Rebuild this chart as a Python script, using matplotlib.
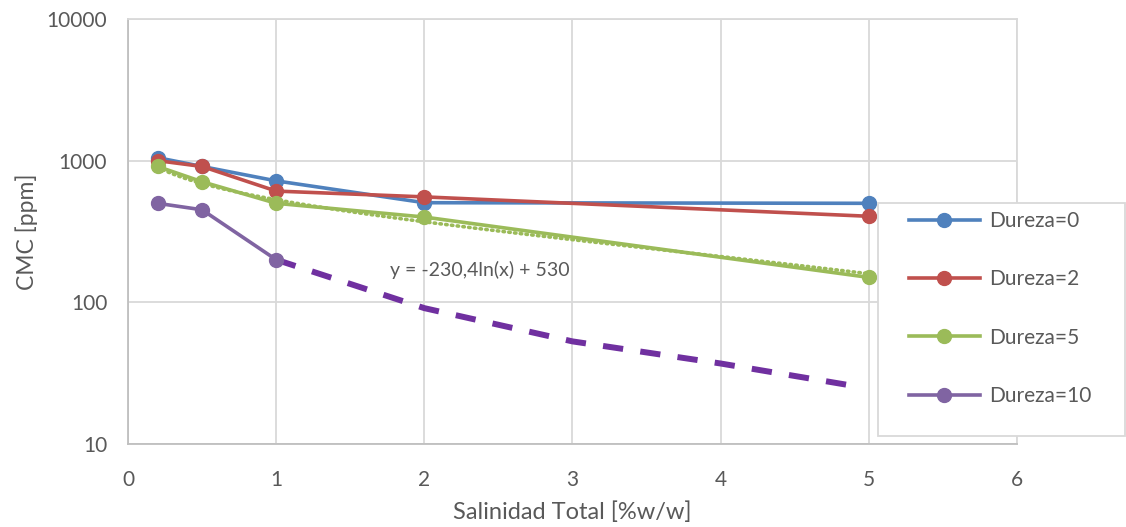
import numpy as np
import matplotlib
matplotlib.use("Agg")
import matplotlib.pyplot as plt
from matplotlib.patches import Rectangle

plt.rcParams['font.family'] = ['Lato', 'DejaVu Sans']

# salinidad total [%w/w]
salinidad = [0.2, 0.5, 1, 2, 5]

# CMC [ppm] para cada dureza
cmc_d0 = [1050, 910, 720, 505, 500]
cmc_d2 = [1000, 910, 610, 555, 405]
cmc_d5 = [910, 710, 500, 400, 150]
sal_d10 = [0.2, 0.5, 1]
cmc_d10 = [500, 450, 200]

# extrapolación a mano de Dureza=10
sal_extra = [1, 2, 3, 4, 4.87]
cmc_extra = [200, 91, 53, 37, 26]

# tendencia logarítmica de Dureza=5
coef_a = -230.4
coef_b = 530

series = ["Dureza=0", "Dureza=2", "Dureza=5", "Dureza=10"]
colores = ["#4F81BD", "#C0504D", "#9BBB59", "#8064A2"]

x_ticks = [0, 1, 2, 3, 4, 5, 6]
y_ticks = [10, 100, 1000, 10000]
y_labels = ["10", "100", "1000", "10000"]

W, H = 1126, 527
fig = plt.figure(figsize=(W / 100, H / 100), dpi=100)
ax = fig.add_axes([128 / W, 1 - 444 / H, (1017 - 128) / W, (444 - 19) / H])

ax.set_yscale("log")
ax.set_xlim(0, 6)
ax.set_ylim(10, 10000)

xt = np.linspace(salinidad[0], salinidad[-1], 200)
ax.plot(xt, coef_a * np.log(xt) + coef_b, color=colores[2], lw=2.6,
        linestyle=(0, (0.4, 1.2)), dash_capstyle="round", zorder=2)

ax.plot(sal_extra, cmc_extra, color="#7030A0", lw=4.3, linestyle=(0, (3.4, 2.9)), zorder=2)

datos = [(salinidad, cmc_d0), (salinidad, cmc_d2), (salinidad, cmc_d5), (sal_d10, cmc_d10)]
for (xs, ys), nombre, c in zip(datos, series, colores):
    ax.plot(xs, ys, color=c, lw=2.6, marker="o", markersize=10, label=nombre, zorder=3)

ax.text(1.77, 168, "y = -230,4ln(x) + 530", fontsize=14, color="#595959", va="center")

ax.set_xticks(x_ticks)
ax.set_yticks(y_ticks)
ax.set_yticklabels(y_labels)
ax.minorticks_off()
ax.tick_params(length=0, labelsize=15, colors="#595959")
ax.tick_params(axis="x", pad=19)
ax.tick_params(axis="y", pad=15)
ax.grid(True, color="#d9d9d9", lw=1.3)
ax.set_axisbelow(True)
for lado in ["top", "right"]:
    ax.spines[lado].set_color("#d9d9d9")
for lado in ["left", "bottom"]:
    ax.spines[lado].set_color("#bfbfbf")
for sp in ax.spines.values():
    sp.set_linewidth(1.3)

ax.set_xlabel("Salinidad Total [%w/w]", fontsize=17, color="#595959", labelpad=8)
ax.set_ylabel("CMC [ppm]", fontsize=16.5, color="#595959", labelpad=6)

# caja de la leyenda
fig.patches.append(Rectangle((878 / W, 1 - 436 / H), (1125 - 878) / W, (436 - 203) / H,
                             transform=fig.transFigure, facecolor="white",
                             edgecolor="#d9d9d9", lw=1.3, zorder=4))
leg = fig.legend(loc="upper left", bbox_to_anchor=(909 / W, 1 - 211 / H),
                 frameon=False, fontsize=15, labelspacing=1.84,
                 handlelength=3.4, borderpad=0, handletextpad=0.45, borderaxespad=0)
leg.set_zorder(5)
for t in leg.get_texts():
    t.set_color("#595959")

fig.savefig("out.png", dpi=100)
